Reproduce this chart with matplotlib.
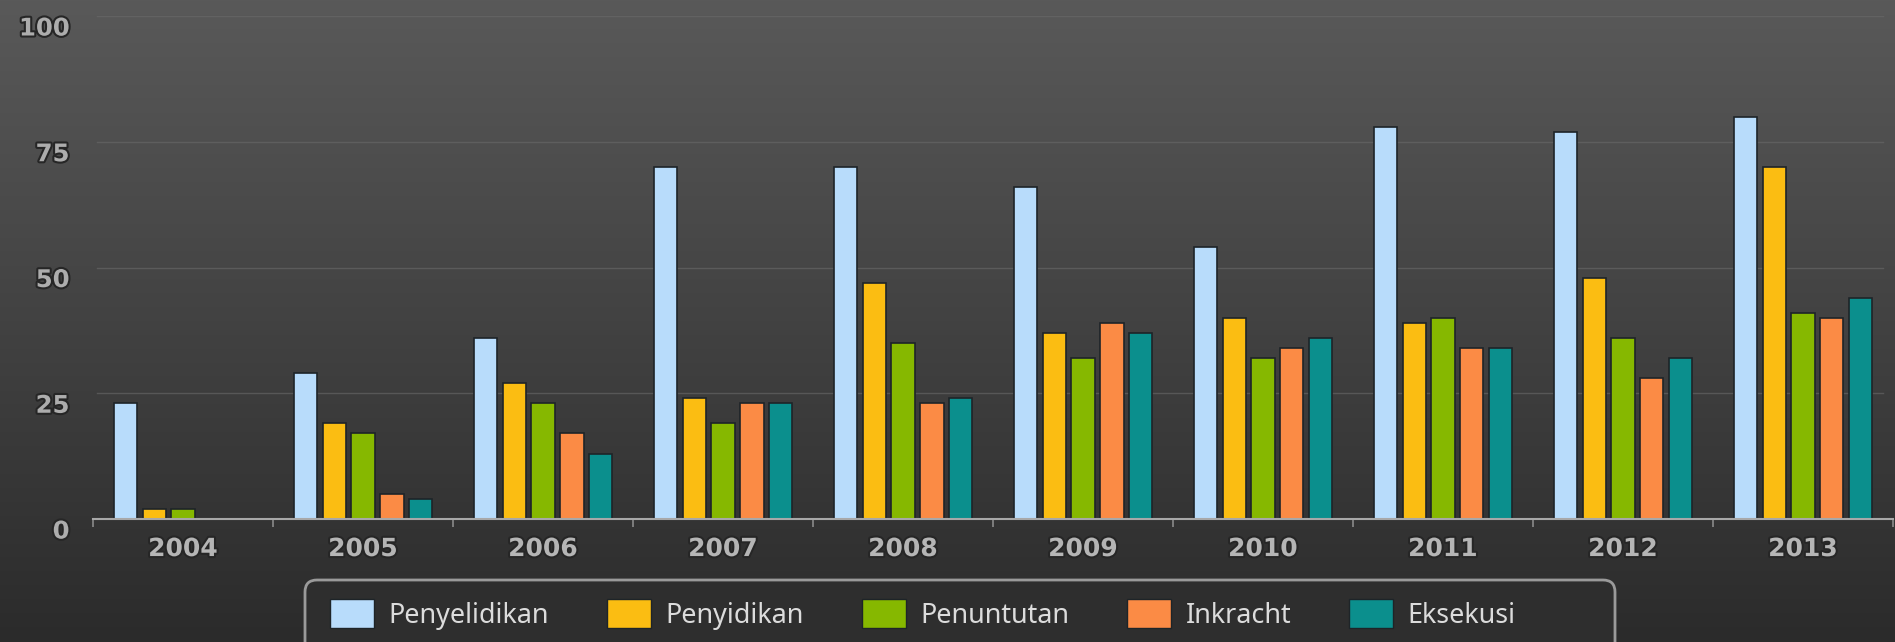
import numpy as np
import matplotlib
matplotlib.use("Agg")
import matplotlib.pyplot as plt
import matplotlib.patheffects as pe
import matplotlib.transforms as mtransforms
from matplotlib.patches import Patch, FancyBboxPatch

years = ["2004", "2005", "2006", "2007", "2008", "2009", "2010", "2011", "2012", "2013"]
series_names = ["Penyelidikan", "Penyidikan", "Penuntutan", "Inkracht", "Eksekusi"]
penyelidikan = [23, 29, 36, 70, 70, 66, 54, 78, 77, 80]
penyidikan = [2, 19, 27, 24, 47, 37, 40, 39, 48, 70]
penuntutan = [2, 17, 23, 19, 35, 32, 32, 40, 36, 41]
inkracht = [0, 5, 17, 23, 23, 39, 34, 34, 28, 40]
eksekusi = [0, 4, 13, 23, 24, 37, 36, 34, 32, 44]
y_ticks = [0, 25, 50, 75, 100]

colors = ["#b8dcfb", "#fbbd12", "#86b800", "#fb8b45", "#0b8f8d"]
series = [penyelidikan, penyidikan, penuntutan, inkracht, eksekusi]

W, H = 1895, 642
fig = plt.figure(figsize=(W / 100, H / 100), dpi=100)

# gradient background
bg = fig.add_axes([0, 0, 1, 1], zorder=-10)
grad = np.linspace(0, 1, 256).reshape(-1, 1)
top = np.array([0x59, 0x59, 0x59]) / 255
bot = np.array([0x2b, 0x2b, 0x2b]) / 255
img = top[None, None, :] * (1 - grad[..., None]) + bot[None, None, :] * grad[..., None]
img = np.clip(img, 0, 1)
bg.imshow(img, aspect="auto", extent=[0, 1, 0, 1], origin="upper")
bg.set_axis_off()

left, right = 93 / W, 1893 / W
bottom, topy = 1 - 519 / H, 1 - 16 / H
ax = fig.add_axes([left, bottom, right - left, topy - bottom])
ax.set_facecolor("none")

x = np.arange(len(years))
bw = 0.128
pitch = 0.161
for i, (vals, c, name) in enumerate(zip(series, colors, series_names)):
    off = (i - 2) * pitch
    ax.bar(x + off, vals, width=bw, color=c, edgecolor="#1e2428", linewidth=1.2,
           label=name, zorder=3)

ax.set_xlim(-0.5, len(years) - 0.5)
ax.set_ylim(0, 100)

# grid
for t in y_ticks[1:]:
    ax.axhline(t, xmin=0.002, xmax=0.9945, color="#6a6a6a", lw=1.0, alpha=0.6, zorder=1)

for s in ["top", "right", "left"]:
    ax.spines[s].set_visible(False)
ax.spines["bottom"].set_color("#a8a8a8")
ax.spines["bottom"].set_linewidth(1.5)
ax.spines["bottom"].set_zorder(4)

ax.set_xticks(x)
ax.set_xticklabels(years)
ax.set_xticks(np.arange(-0.5, len(years)), minor=True)
ax.tick_params(axis="x", which="major", length=0, pad=13, labelsize=18,
               labelcolor="#b5b5b5")
ax.tick_params(axis="x", which="minor", length=6, width=1.2, color="#8a8a8a", direction="out")
ax.set_yticks(y_ticks)
ax.set_yticklabels([str(t) for t in y_ticks])
ax.tick_params(axis="y", length=0, pad=17, labelsize=17.5, labelcolor="#adadad")

glow = [pe.withStroke(linewidth=3, foreground="#262626")]
for lab in ax.get_xticklabels():
    lab.set_fontweight("bold")
    lab.set_path_effects(glow)
    lab.set_fontfamily("DejaVu Sans")
offset = mtransforms.ScaledTranslation(0, -10 / 100, fig.dpi_scale_trans)
for lab in ax.get_yticklabels():
    lab.set_fontweight("bold")
    lab.set_path_effects(glow)
    lab.set_transform(lab.get_transform() + offset)

# legend frame (rounded box, cut at the bottom edge)
frame = FancyBboxPatch((3.05, -0.15), 13.10, 0.77,
                       boxstyle="round,pad=0,rounding_size=0.12",
                       transform=fig.dpi_scale_trans, facecolor="#2e2e2e",
                       edgecolor="#9a9a9a", linewidth=2, zorder=1)
fig.patches.append(frame)

handles = [Patch(facecolor=c, edgecolor="#1e2428", label=n) for c, n in zip(colors, series_names)]
leg = fig.legend(handles=handles, loc="upper left", bbox_to_anchor=(330 / W, 1 - 599 / H),
                 ncol=5, frameon=False, handlelength=1.63, handleheight=1.3,
                 handletextpad=0.54, columnspacing=2.15, borderpad=0, borderaxespad=0,
                 labelcolor="#dcdcdc", prop={"family": "Noto Sans", "size": 19.4})
leg.set_zorder(5)

fig.savefig("out.png", dpi=100)
